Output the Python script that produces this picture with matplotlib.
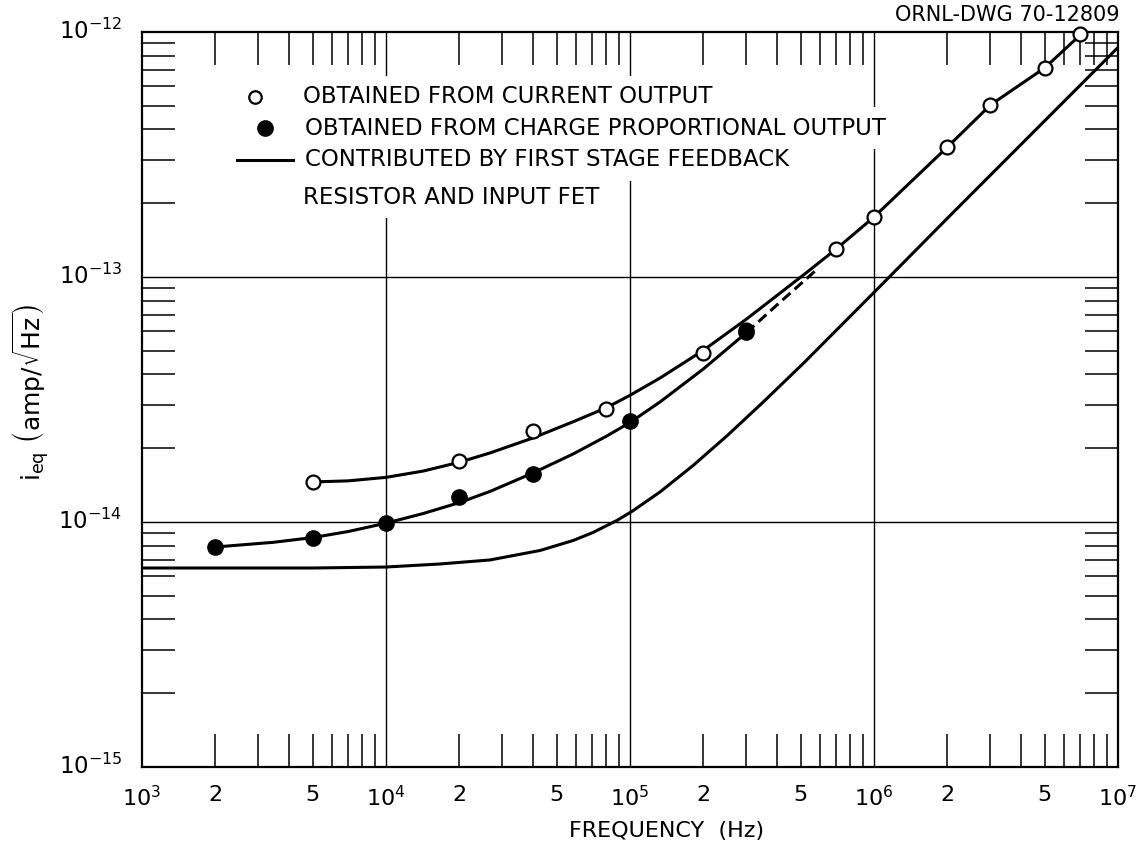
import matplotlib
matplotlib.use("Agg")
import matplotlib.pyplot as plt
from matplotlib.ticker import FixedLocator, NullFormatter, FixedFormatter, LogLocator
from matplotlib.transforms import ScaledTranslation

plt.rcParams["font.family"] = "DejaVu Sans"
plt.rcParams["mathtext.default"] = "regular"
plt.rcParams["mathtext.fontset"] = "dejavusans"

# Measured points: current output (open) and charge-proportional output (filled)
freq_current = [5e3, 2e4, 4e4, 8e4, 2e5, 3e5, 7e5, 1e6, 2e6, 3e6, 5e6, 7e6]
ieq_current = [1.455e-14, 1.77e-14, 2.35e-14, 2.89e-14, 4.9e-14, 6.08e-14,
               1.30e-13, 1.76e-13, 3.4e-13, 5.04e-13, 7.13e-13, 9.8e-13]

freq_charge = [2e3, 5e3, 1e4, 2e4, 4e4, 1e5, 3e5]
ieq_charge = [7.9e-15, 8.6e-15, 9.9e-15, 1.265e-14, 1.57e-14, 2.58e-14, 5.97e-14]

# Hand-drawn curve through the current-output points
curve_current_f = [5e3, 7e3, 1e4, 1.42e4, 2e4, 2.67e4, 4e4, 5.84e4, 8e4, 1e5,
                   1.33e5, 2e5, 3e5, 5.2e5, 7e5, 1e6, 2e6, 3e6, 5e6, 7e6]
curve_current_i = [1.457e-14, 1.472e-14, 1.521e-14, 1.614e-14, 1.754e-14,
                   1.914e-14, 2.203e-14, 2.564e-14, 2.927e-14, 3.289e-14,
                   3.873e-14, 5.023e-14, 6.730e-14, 1.0285e-13, 1.301e-13,
                   1.758e-13, 3.394e-13, 5.035e-13, 7.13e-13, 9.72e-13]

# Hand-drawn curve through the charge-output points
curve_charge_f = [2e3, 3.44e3, 5e3, 7e3, 1e4, 1.42e4, 2e4, 2.67e4, 4e4, 5.84e4,
                  8e4, 1e5, 1.33e5, 2e5, 3e5]
curve_charge_i = [7.907e-15, 8.259e-15, 8.636e-15, 9.144e-15, 9.890e-15,
                  1.083e-14, 1.200e-14, 1.333e-14, 1.585e-14, 1.894e-14,
                  2.239e-14, 2.547e-14, 3.094e-14, 4.217e-14, 5.927e-14]

# Dashed extension of the charge-output curve
curve_charge_ext_f = [3e5, 4e5, 5.8e5]
curve_charge_ext_i = [5.927e-14, 7.686e-14, 1.068e-13]

# Contribution of first-stage feedback resistor and input FET
curve_fet_f = [1e3, 5e3, 1e4, 1.665e4, 2.67e4, 4.28e4, 5.84e4, 7.05e4, 8.85e4,
               1.02e5, 1.33e5, 1.813e5, 2.5e5, 3.51e5, 5.12e5, 1.03e6, 2.07e6,
               5.07e6, 1e7]
curve_fet_i = [6.49e-15, 6.49e-15, 6.55e-15, 6.74e-15, 7.0e-15, 7.652e-15,
               8.401e-15, 9.059e-15, 1.0153e-14, 1.1055e-14, 1.328e-14,
               1.700e-14, 2.250e-14, 3.083e-14, 4.43e-14, 8.91e-14, 1.799e-13,
               4.395e-13, 8.65e-13]

x_tick_values = [1e3, 2e3, 5e3, 1e4, 2e4, 5e4, 1e5, 2e5, 5e5, 1e6, 2e6, 5e6, 1e7]
x_tick_labels = ["$10^{3}$", "2", "5", "$10^{4}$", "2", "5", "$10^{5}$", "2", "5",
                 "$10^{6}$", "2", "5", "$10^{7}$"]
y_tick_values = [1e-15, 1e-14, 1e-13, 1e-12]
y_tick_labels = ["$10^{-15}$", "$10^{-14}$", "$10^{-13}$", "$10^{-12}$"]
x_grid = [1e4, 1e5, 1e6]
y_grid = [1e-14, 1e-13]

legend_labels = ["OBTAINED FROM CURRENT OUTPUT",
                 "OBTAINED FROM CHARGE PROPORTIONAL OUTPUT",
                 "CONTRIBUTED BY FIRST STAGE FEEDBACK",
                 "RESISTOR AND INPUT FET"]

fig = plt.figure(figsize=(11.48, 8.49), dpi=100)
ax = fig.add_axes([142 / 1148, 1 - 767 / 849, 976 / 1148, 735 / 849])
ax.set_xscale("log")
ax.set_yscale("log")
ax.set_xlim(1e3, 1e7)
ax.set_ylim(1e-15, 1e-12)

for s in ax.spines.values():
    s.set_linewidth(1.6)

# decade grid lines
for xv in x_grid:
    ax.axvline(xv, color="black", linewidth=1.0, zorder=1)
for yv in y_grid:
    ax.axhline(yv, color="black", linewidth=1.0, zorder=1)

# labelled positions carry no tick mark
ax.xaxis.set_major_locator(FixedLocator(x_tick_values))
ax.xaxis.set_major_formatter(FixedFormatter(x_tick_labels))
ax.yaxis.set_major_locator(FixedLocator(y_tick_values))
ax.yaxis.set_major_formatter(FixedFormatter(y_tick_labels))
ax.tick_params(axis="x", which="major", length=0, pad=13, labelsize=16)
ax.tick_params(axis="y", which="major", length=0, pad=14, labelsize=16.5)

# long inward minor ticks on all four sides
ax.xaxis.remove_overlapping_locs = False
ax.yaxis.remove_overlapping_locs = False
ax.xaxis.set_minor_locator(LogLocator(base=10, subs=range(2, 10), numticks=20))
ax.yaxis.set_minor_locator(LogLocator(base=10, subs=range(2, 10), numticks=20))
ax.xaxis.set_minor_formatter(NullFormatter())
ax.yaxis.set_minor_formatter(NullFormatter())
ax.tick_params(which="minor", direction="in", length=24, width=1.1,
               top=True, bottom=True, left=True, right=True, color="black")

# y labels sit slightly above their grid line
shift_up = ScaledTranslation(0, 3 / 100, fig.dpi_scale_trans)
for lab in ax.get_yticklabels():
    lab.set_transform(lab.get_transform() + shift_up)

lw = 2.2
line_kw = dict(color="black", lw=lw, zorder=3, solid_capstyle="round",
               solid_joinstyle="round")
ax.plot(curve_fet_f, curve_fet_i, **line_kw)
ax.plot(curve_current_f, curve_current_i, **line_kw)
ax.plot(curve_charge_f, curve_charge_i, **line_kw)
ax.plot(curve_charge_ext_f, curve_charge_ext_i, color="black", lw=lw, zorder=3,
        linestyle=(0, (3.5, 1.8)))

ax.plot(freq_current, ieq_current, "o", ms=10, mfc="white", mec="black",
        mew=1.6, zorder=5, clip_on=False)
ax.plot(freq_charge, ieq_charge, "o", ms=11, mfc="black", mec="black",
        zorder=6, clip_on=False)

# key
txt_kw = dict(transform=ax.transAxes, fontsize=16.5, va="center", ha="left",
              zorder=4, bbox=dict(facecolor="white", edgecolor="none", pad=7))
ax.plot([0.1158], [0.9116], "o", ms=9, mfc="white", mec="black", mew=1.6,
        transform=ax.transAxes, zorder=5)
ax.text(0.165, 0.9116, legend_labels[0], **txt_kw)
ax.plot([0.1260], [0.8690], "o", ms=11, mfc="black", mec="black",
        transform=ax.transAxes, zorder=5)
ax.text(0.167, 0.8690, legend_labels[1], **txt_kw)
ax.plot([0.0973, 0.1547], [0.826, 0.826], color="black", lw=lw,
        transform=ax.transAxes, zorder=5)
ax.text(0.167, 0.826, legend_labels[2], **txt_kw)
ax.text(0.165, 0.7755, legend_labels[3], **txt_kw)

ax.set_xlabel("FREQUENCY  (Hz)", fontsize=16)
ax.xaxis.set_label_coords(0.537, -0.0735)
ax.set_ylabel(r"$i_{eq}\ \left(\mathrm{amp}/\sqrt{\mathrm{Hz}}\right)$",
              fontsize=18, va="center")
ax.yaxis.set_label_coords(-0.113, 0.51)

fig.text(1120 / 1148, 1 - 15 / 849, "ORNL-DWG 70-12809", ha="right",
         va="center", fontsize=15)

fig.savefig("out.png", dpi=100, facecolor="white")
